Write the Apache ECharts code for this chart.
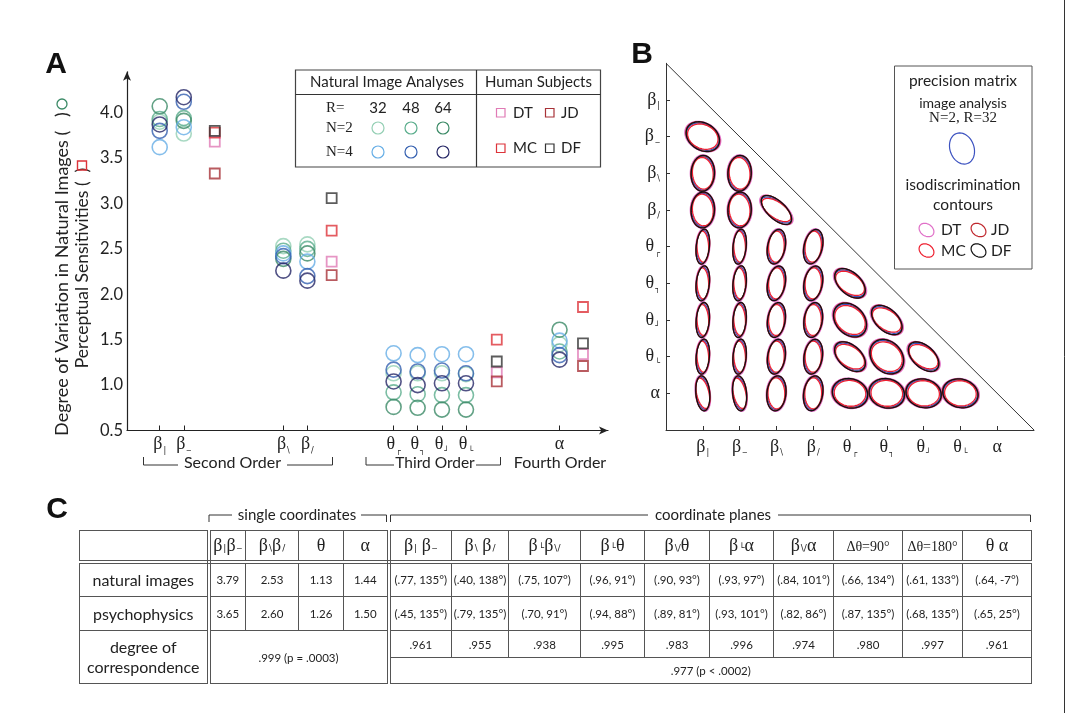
<!DOCTYPE html>
<html><head><meta charset="utf-8">
<script src="https://cdn.jsdelivr.net/npm/echarts@6/dist/echarts.min.js"></script>
<style>
html,body{margin:0;padding:0;background:#fff;}
#wrap{position:relative;width:1068px;height:713px;overflow:hidden;}
#chart{position:absolute;left:0;top:0;width:1068px;height:713px;}
#tbl{position:absolute;left:79px;top:530px;}
table{border-collapse:collapse;table-layout:fixed;width:952px;font-family:Lato,sans-serif;color:#222;}
td{border:1px solid #555;text-align:center;padding:0;font-size:11.5px;white-space:nowrap;overflow:hidden;}
td.lab{font-size:16px;}
td.dbl{border-right:4px double #555;}
tr.hd td{border-bottom:4px double #555;font-family:'Liberation Serif',serif;font-size:18px;}
.sb{font-family:'DejaVu Sans',sans-serif;font-size:9px;margin-left:1px;}
.sm{font-size:14px;}
</style>
</head><body>
<div id="wrap"><div id="chart"></div><div id="tbl"></div></div>
<script>
// ---------- Panel A data ----------
const featureBase = ['β','β','β','β','θ','θ','θ','θ','α'];
const featureSub  = ['|','‒','\\','/','┌','┐','┘','└',''];
const featureX    = [2.72, 4.72, 13.0, 15.0, 22.17, 24.17, 26.19, 28.19, 35.97]; // slot on axis A
const subjectX    = [7.3, 17.02, 30.75, 37.92]; // human-subject slot per group
const yTicks      = [0.5, 1.0, 1.5, 2.0, 2.5, 3.0, 3.5, 4.0];

const N2R32 = [3.90, 3.77, 2.53, 2.55, 1.13, 1.13, 1.13, 1.12, 1.45];
const N2R48 = [3.93, 3.94, 2.48, 2.50, 0.92, 0.90, 0.89, 0.89, 1.37];
const N2R64 = [4.07, 3.91, 2.39, 2.45, 0.76, 0.75, 0.73, 0.73, 1.61];
const N4R32 = [3.62, 3.84, 2.45, 2.36, 1.35, 1.33, 1.34, 1.34, 1.49];
const N4R48 = [3.80, 4.12, 2.42, 2.20, 1.17, 1.15, 1.16, 1.13, 1.33];
const N4R64 = [3.87, 4.17, 2.26, 2.15, 1.04, 1.00, 1.02, 1.02, 1.28];

const DT = [3.68, 2.36, 1.14, 1.34];
const JD = [3.33, 2.21, 1.04, 1.21];
const MC = [3.78, 2.70, 1.50, 1.86];
const DF = [3.80, 3.06, 1.26, 1.46];

// ---------- Panel B data: [rowFeature, colFeature, halfAxisA, halfAxisB, angleDeg] ----------
const ellipseCells = [
 [1,0,0.49,0.36,-30],
 [2,0,0.32,0.48,0],[2,1,0.32,0.48,0],
 [3,0,0.32,0.48,0],[3,1,0.32,0.48,0],[3,2,0.52,0.24,-40],
 [4,0,0.18,0.47,-3],[4,1,0.18,0.47,-3],[4,2,0.24,0.47,-8],[4,3,0.25,0.47,-10],
 [5,0,0.18,0.47,-3],[5,1,0.18,0.47,-3],[5,2,0.24,0.47,-8],[5,3,0.25,0.47,-8],[5,4,0.50,0.29,-40],
 [6,0,0.18,0.47,-2],[6,1,0.18,0.47,-2],[6,2,0.24,0.47,-6],[6,3,0.25,0.47,-6],[6,4,0.52,0.38,-45],[6,5,0.50,0.29,-40],
 [7,0,0.18,0.47,-2],[7,1,0.18,0.47,-2],[7,2,0.24,0.47,-6],[7,3,0.25,0.47,-6],[7,4,0.50,0.30,-40],[7,5,0.52,0.40,-45],[7,6,0.50,0.29,-40],
 [8,0,0.19,0.47,8],[8,1,0.19,0.47,8],[8,2,0.26,0.47,-3],[8,3,0.26,0.47,-6],[8,4,0.49,0.39,-12],[8,5,0.49,0.39,-12],[8,6,0.49,0.38,-12],[8,7,0.49,0.38,-12]
];
// per-contour scale [a, b, extra angle]
const ellImage = [0.95, 0.95, 2];
const ellDT    = [1.06, 1.05, 0];
const ellJD    = [1.01, 1.00, -3];
const ellMC    = [0.88, 0.90, 5];
const ellDF    = [0.99, 1.02, -3];

// ---------- Panel C data ----------
const tblHeads = ['β{|}β{‒}','β{\\}β{/}','θ','α','β{|} β{‒}','β{\\} β{/}','β{└}β{\\/}','β{└}θ','β{\\/}θ','β{└}α','β{\\/}α','Δθ=90°','Δθ=180°','θ α'];
const natural  = ['3.79','2.53','1.13','1.44','(.77, 135°)','(.40, 138°)','(.75, 107°)','(.96, 91°)','(.90, 93°)','(.93, 97°)','(.84, 101°)','(.66, 134°)','(.61, 133°)','(.64, -7°)'];
const psycho   = ['3.65','2.60','1.26','1.50','(.45, 135°)','(.79, 135°)','(.70, 91°)','(.94, 88°)','(.89, 81°)','(.93, 101°)','(.82, 86°)','(.87, 135°)','(.68, 135°)','(.65, 25°)'];
const corrSingle = '.999 (p = .0003)';
const corrPlanes = ['.961','.955','.938','.995','.983','.996','.974','.980','.997','.961'];
const corrPlanesAll = '.977 (p < .0002)';

// ---------- colors ----------
const cMint='#94cfb4', cTeal='#5aad8c', cDkGreen='#3b8a66', cLtBlue='#66aee6', cBlue='#3560b0', cNavy='#262766';
const cDT='#e07ab5', cJD='#a83238', cMC='#dd333a', cDF='#333333';
const eImg='#3c52c0', eDT='#e070c8', eJD='#c0282e', eMC='#ee2030', eDF='#111111';

const chart = echarts.init(document.getElementById('chart'), null, {renderer:'canvas'});

const rich = {
  g:{fontFamily:'Liberation Serif', fontSize:18, color:'#222', lineHeight:20},
  s:{fontFamily:'DejaVu Sans', fontSize:8, color:'#222', lineHeight:19, verticalAlign:'bottom', padding:[0,0,0,1]}
};
function featLabel(i){ return '{g|'+featureBase[i]+'}' + (featureSub[i] ? '{s|'+featureSub[i]+'}' : ''); }

function circleSeries(name, vals, color){
  return {type:'scatter', name, xAxisIndex:0, yAxisIndex:0, symbol:'circle', symbolSize:15,
    itemStyle:{color:'rgba(0,0,0,0)', borderColor:color, borderWidth:1.6}, silent:true,
    data: featureX.map((x,i)=>[x, vals[i]])};
}
function squareSeries(name, vals, color){
  return {type:'scatter', name, xAxisIndex:0, yAxisIndex:0, symbol:'rect', symbolSize:10,
    itemStyle:{color:'rgba(0,0,0,0)', borderColor:color, borderWidth:1.8}, silent:true,
    data: subjectX.map((x,i)=>[x, vals[i]])};
}
function ellipseSeries(name, color, sc){
  return {type:'custom', name, xAxisIndex:1, yAxisIndex:1, silent:true,
    data: ellipseCells.map(c=>[c[1]+1, 9-c[0], c[2]*sc[0], c[3]*sc[1], c[4]+sc[2]]),
    encode:{x:0, y:1},
    renderItem:function(params, api){
      const cx=api.value(0), cy=api.value(1), a=api.value(2), b=api.value(3), ph=api.value(4)*Math.PI/180;
      const pts=[];
      for(let k=0;k<64;k++){
        const t=k/64*2*Math.PI;
        const dx=a*Math.cos(t)*Math.cos(ph)-b*Math.sin(t)*Math.sin(ph);
        const dy=a*Math.cos(t)*Math.sin(ph)+b*Math.sin(t)*Math.cos(ph);
        pts.push(api.coord([cx+dx, cy+dy]));
      }
      return {type:'polygon', shape:{points:pts}, style:{fill:'none', stroke:color, lineWidth:1.3}};
    }};
}
function ellPts(cx,cy,a,b,deg){
  const ph=deg*Math.PI/180, pts=[];
  for(let k=0;k<48;k++){const t=k/48*2*Math.PI;
    pts.push([cx + a*Math.cos(t)*Math.cos(ph)-b*Math.sin(t)*Math.sin(ph),
              cy - (a*Math.cos(t)*Math.sin(ph)+b*Math.sin(t)*Math.cos(ph))]);}
  return pts;
}
const sans='Lato', serif='Liberation Serif';
function txt(x,y,t,o){ return Object.assign({type:'text', x, y, style:Object.assign({text:t, fill:'#222', font:'15px '+sans, textAlign:'center', textVerticalAlign:'middle'}, o||{})}); }
function ln(x1,y1,x2,y2,w){ return {type:'line', shape:{x1,y1,x2,y2}, style:{stroke:'#333', lineWidth:w||1}}; }
function pl(pts,w){ return {type:'polyline', shape:{points:pts}, style:{stroke:'#333', lineWidth:w||1, fill:'none'}}; }

const graphics = [
  // panel letters
  txt(56,65,'A',{font:'bold 30px Liberation Sans', fill:'#111'}),
  txt(642,55,'B',{font:'bold 30px Liberation Sans', fill:'#111'}),
  txt(57,510,'C',{font:'bold 30px Liberation Sans', fill:'#111'}),
  // y titles panel A
  {type:'text', x:62, y:274, rotation:Math.PI/2, style:{text:'Degree of Variation in Natural Images (   )', font:'18px '+sans, fill:'#222', textAlign:'center', textVerticalAlign:'middle'}},
  {type:'circle', shape:{cx:62, cy:104, r:5}, style:{fill:'none', stroke:cDkGreen, lineWidth:1.3}},
  {type:'text', x:82, y:268, rotation:Math.PI/2, style:{text:'Perceptual Sensitivities (  )', font:'17.5px '+sans, fill:'#222', textAlign:'center', textVerticalAlign:'middle'}},
  {type:'rect', shape:{x:77.5, y:161, width:9, height:9}, style:{fill:'none', stroke:cMC, lineWidth:1.4}},
  // order brackets
  pl([[143.5,457],[143.5,465],[178,465]]), pl([[287,465],[332.5,465],[332.5,457]]),
  txt(232.5,463,'Second Order',{font:'16px '+sans}),
  pl([[366,457],[366,465],[394,465]]), pl([[476,465],[500.5,465],[500.5,457]]),
  txt(435,463,'Third Order',{font:'15.5px '+sans}),
  txt(560,463,'Fourth Order',{font:'16px '+sans}),
  // legend A
  {type:'rect', shape:{x:295.5, y:70, width:305, height:97}, style:{fill:'none', stroke:'#444', lineWidth:1.2}},
  ln(295.5,94.5,600.5,94.5,1.2), ln(476.5,70,476.5,167,1.2),
  txt(387,82,'Natural Image Analyses'), txt(538.5,82,'Human Subjects'),
  txt(326,108,'R=',{font:'15px '+serif, textAlign:'left'}),
  txt(326,128,'N=2',{font:'15px '+serif, textAlign:'left'}),
  txt(326,152,'N=4',{font:'15px '+serif, textAlign:'left'}),
  txt(378,108,'32'), txt(411,108,'48'), txt(443,108,'64'),
  {type:'circle', shape:{cx:378,cy:128,r:6}, style:{fill:'none',stroke:cMint,lineWidth:1.2}},
  {type:'circle', shape:{cx:411,cy:128,r:6}, style:{fill:'none',stroke:cTeal,lineWidth:1.2}},
  {type:'circle', shape:{cx:443,cy:128,r:6}, style:{fill:'none',stroke:cDkGreen,lineWidth:1.2}},
  {type:'circle', shape:{cx:378,cy:152,r:6}, style:{fill:'none',stroke:cLtBlue,lineWidth:1.2}},
  {type:'circle', shape:{cx:411,cy:152,r:6}, style:{fill:'none',stroke:cBlue,lineWidth:1.2}},
  {type:'circle', shape:{cx:443,cy:152,r:6}, style:{fill:'none',stroke:cNavy,lineWidth:1.2}},
  {type:'rect', shape:{x:496.5,y:108.5,width:8.5,height:8.5}, style:{fill:'none',stroke:cDT,lineWidth:1.2}},
  {type:'rect', shape:{x:545.5,y:108.5,width:8.5,height:8.5}, style:{fill:'none',stroke:cJD,lineWidth:1.2}},
  {type:'rect', shape:{x:496.5,y:144,width:8.5,height:8.5}, style:{fill:'none',stroke:cMC,lineWidth:1.2}},
  {type:'rect', shape:{x:545.5,y:144,width:8.5,height:8.5}, style:{fill:'none',stroke:cDF,lineWidth:1.2}},
  txt(513,113,'DT',{textAlign:'left'}), txt(561,113,'JD',{textAlign:'left'}),
  txt(513,148.5,'MC',{textAlign:'left'}), txt(561,148.5,'DF',{textAlign:'left'}),
  // legend B
  {type:'rect', shape:{x:894.5, y:66, width:137.5, height:203}, style:{fill:'none', stroke:'#555', lineWidth:1}},
  txt(963,81,'precision matrix',{font:'15.5px '+sans}),
  txt(963,103,'image analysis',{font:'14px '+sans}),
  txt(963,118,'N=2, R=32',{font:'15px '+serif}),
  {type:'polygon', shape:{points:ellPts(962,148.5,12,16,20)}, style:{fill:'none',stroke:eImg,lineWidth:1.2}},
  txt(963,185,'isodiscrimination',{font:'15.5px '+sans}),
  txt(963,205,'contours',{font:'15.5px '+sans}),
  {type:'polygon', shape:{points:ellPts(926.5,230,8,6,-35)}, style:{fill:'none',stroke:eDT,lineWidth:1.2}},
  {type:'polygon', shape:{points:ellPts(978.5,230,8,6,-35)}, style:{fill:'none',stroke:eJD,lineWidth:1.2}},
  {type:'polygon', shape:{points:ellPts(926.5,250.5,8,6,-35)}, style:{fill:'none',stroke:eMC,lineWidth:1.2}},
  {type:'polygon', shape:{points:ellPts(978.5,250.5,8,6,-35)}, style:{fill:'none',stroke:eDF,lineWidth:1.2}},
  txt(941,230,'DT',{font:'15.5px '+sans, textAlign:'left'}), txt(991,230,'JD',{font:'15.5px '+sans, textAlign:'left'}),
  txt(941,250.5,'MC',{font:'15.5px '+sans, textAlign:'left'}), txt(991,250.5,'DF',{font:'15.5px '+sans, textAlign:'left'}),
  // table brackets
  pl([[209,522],[209,515],[232,515]]), pl([[361,515],[386.5,515],[386.5,522]]),
  txt(297,515,'single coordinates',{font:'15px '+sans}),
  pl([[390.5,522],[390.5,515],[648,515]]), pl([[778,515],[1030.5,515],[1030.5,522]]),
  txt(713,515,'coordinate planes',{font:'15px '+sans}),
  ln(1064.5,0,1064.5,713,1)
];

const option = {
  animation:false,
  backgroundColor:'#fff',
  grid:[{left:127, top:71.8, width:481, height:358.7},
        {left:666, top:63.3, width:368, height:366.7}],
  xAxis:[
    {gridIndex:0, type:'value', min:0, max:40, splitLine:{show:false},
     axisLine:{symbol:['none','arrow'], symbolSize:[6,9], lineStyle:{color:'#222', width:1.2}},
     axisTick:{inside:true, length:5, customValues:featureX, lineStyle:{color:'#222'}},
     axisLabel:{customValues:featureX, margin:4, rich,
       formatter:function(v){const i=featureX.findIndex(p=>Math.abs(p-v)<1e-6); return i<0?'':featLabel(i);}}},
    {gridIndex:1, type:'value', min:0, max:10, splitLine:{show:false},
     axisLine:{lineStyle:{color:'#333', width:1}},
     axisTick:{inside:true, length:4, customValues:[1,2,3,4,5,6,7,8,9], lineStyle:{color:'#333'}},
     axisLabel:{customValues:[1,2,3,4,5,6,7,8,9], margin:7, rich,
       formatter:function(v){return featLabel(Math.round(v)-1);}}}
  ],
  yAxis:[
    {gridIndex:0, type:'value', min:0.5, max:4.45, interval:0.5, splitLine:{show:false},
     axisLine:{show:true, symbol:['none','arrow'], symbolSize:[6,9], lineStyle:{color:'#222', width:1.2}},
     axisTick:{show:false},
     axisLabel:{customValues:yTicks, margin:4, color:'#222', fontFamily:sans, fontSize:16.5,
       formatter:function(v){return v.toFixed(1);}}},
    {gridIndex:1, type:'value', min:0, max:10, splitLine:{show:false},
     axisLine:{show:true, lineStyle:{color:'#333', width:1}},
     axisTick:{inside:true, length:4, customValues:[1,2,3,4,5,6,7,8,9], lineStyle:{color:'#333'}},
     axisLabel:{customValues:[1,2,3,4,5,6,7,8,9], margin:6, rich,
       formatter:function(v){return featLabel(9-Math.round(v));}}}
  ],
  series:[
    circleSeries('N=2 R=32', N2R32, cMint),
    circleSeries('N=2 R=48', N2R48, cTeal),
    circleSeries('N=2 R=64', N2R64, cDkGreen),
    circleSeries('N=4 R=32', N4R32, cLtBlue),
    circleSeries('N=4 R=48', N4R48, cBlue),
    circleSeries('N=4 R=64', N4R64, cNavy),
    squareSeries('DT', DT, cDT),
    squareSeries('JD', JD, cJD),
    squareSeries('MC', MC, cMC),
    squareSeries('DF', DF, cDF),
    {type:'line', xAxisIndex:1, yAxisIndex:1, symbol:'none', silent:true, data:[[0,10],[10,0]], lineStyle:{color:'#333', width:1}},
    ellipseSeries('image analysis', eImg, ellImage),
    ellipseSeries('DT', eDT, ellDT),
    ellipseSeries('JD', eJD, ellJD),
    ellipseSeries('MC', eMC, ellMC),
    ellipseSeries('DF', eDF, ellDF)
  ],
  graphic: graphics
};
chart.setOption(option);

// ---------- table ----------
function head(h){
  return h.replace(/\{([^}]*)\}/g, '<span class="sb">$1</span>').replace(/(Δθ=\d+°)/,'<span class="sm">$1</span>');
}
const widths=[129,37,53,45,45,63,57,72,64,65,64,60,69,60,69];
let html='<table><colgroup>'+widths.map(w=>'<col style="width:'+w+'px">').join('')+'</colgroup>';
html+='<tr class="hd" style="height:31px"><td class="dbl"></td>'+tblHeads.map((h,i)=>'<td'+(i===3?' class="dbl"':'')+'>'+head(h)+'</td>').join('')+'</tr>';
html+='<tr style="height:35px"><td class="lab dbl">natural images</td>'+natural.map((v,i)=>'<td'+(i===3?' class="dbl"':'')+'>'+v+'</td>').join('')+'</tr>';
html+='<tr style="height:34px"><td class="lab dbl">psychophysics</td>'+psycho.map((v,i)=>'<td'+(i===3?' class="dbl"':'')+'>'+v+'</td>').join('')+'</tr>';
html+='<tr style="height:27px"><td class="lab dbl" rowspan="2" style="line-height:20px">degree of<br>correspondence</td><td class="dbl" colspan="4" rowspan="2">'+corrSingle+'</td>'+corrPlanes.map(v=>'<td>'+v+'</td>').join('')+'</tr>';
html+='<tr style="height:26px"><td colspan="10">'+corrPlanesAll+'</td></tr>';
html+='</table>';
document.getElementById('tbl').innerHTML=html;
</script>
</body></html>
